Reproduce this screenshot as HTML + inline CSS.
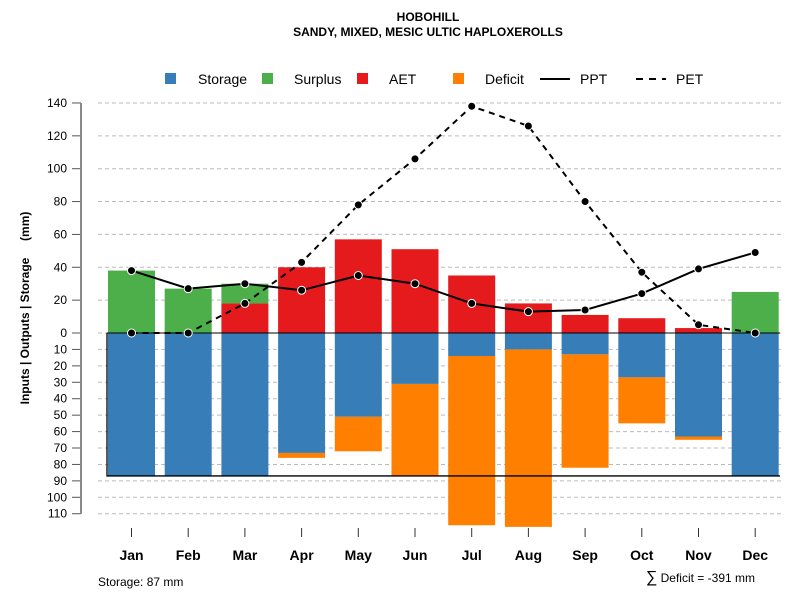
<!DOCTYPE html>
<html><head><meta charset="utf-8"><style>
body{margin:0;background:#fff;font-family:"Liberation Sans",sans-serif}
</style></head><body>
<svg id="chart" width="800" height="600" xmlns="http://www.w3.org/2000/svg" font-family="Liberation Sans, sans-serif">
<text x="428" y="21" text-anchor="middle" font-size="12" font-weight="bold">HOBOHILL</text>
<text x="428" y="36" text-anchor="middle" font-size="12" font-weight="bold">SANDY, MIXED, MESIC ULTIC HAPLOXEROLLS</text>
<g id="legend" font-size="14"></g>
<g id="grid"></g><g id="bars"></g><g id="lines"></g><g id="axes"></g>
<text transform="translate(29,308) rotate(-90)" text-anchor="middle" font-size="12" font-weight="bold" style="white-space:pre">Inputs | Outputs | Storage     (mm)</text>
<text x="98" y="586" font-size="12">Storage: 87 mm</text>
<text x="755" y="582" text-anchor="end" font-size="12"><tspan font-size="16">∑</tspan> Deficit = -391 mm</text>
</svg>
<script>
const months=["Jan","Feb","Mar","Apr","May","Jun","Jul","Aug","Sep","Oct","Nov","Dec"];
const storage=[87,87,87,73,51,31,14,10,13,27,63,87];
const deficit=[0,0,0,3,21,56,103,108,69,28,2,0];
const aet=[0,0,18,40,57,51,35,18,11,9,3,0];
const surplus=[38,27,12,0,0,0,0,0,0,0,0,25];
const ppt=[38,27,30,26,35,30,18,13,14,24,39,49];
const pet=[0,0,18,43,78,106,138,126,80,37,5,0];
const posTicks=[0,20,40,60,80,100,120,140];
const negTicks=[10,20,30,40,50,60,70,80,90,100,110];
const awc=87;
const NS="http://www.w3.org/2000/svg";
const y=v=>333-v*1.643;
const x=i=>131.5+i*56.7;
const BW=47;
function mk(p,t,a){const e=document.createElementNS(NS,t);for(const k in a)e.setAttribute(k,a[k]);document.getElementById(p).appendChild(e);return e;}
const allT=posTicks.map(v=>[v,y(v)]).concat(negTicks.map(v=>[v,y(-v)]));
allT.forEach(([v,py])=>{
 let g=mk('grid','line',{x1:98,x2:782,y1:py,y2:py,stroke:'#bbb','stroke-dasharray':'4,3'});
 
 
 let t=mk('axes','line',{x1:72,x2:81,y1:py,y2:py,stroke:'#555'});
 
 
 let l=mk('axes','text',{x:67,y:py+4,'text-anchor':'end','font-size':12});
 l.textContent=v;
 
 
});
let ax=mk('axes','line',{x1:81,x2:81,y1:y(140),y2:y(-110),stroke:'#888','stroke-width':2});


months.forEach((m,i)=>{
 const cx=x(i),x0=cx-BW/2;
 const r=(n,v0,v1,c)=>{if(v1===v0)return;const e=mk('bars','rect',{x:x0,y:Math.min(y(v0),y(v1)),width:BW,height:Math.abs(y(v0)-y(v1)),fill:c});};
 r('storage',0,-storage[i],'#377eb8');
 r('deficit',-storage[i],-storage[i]-deficit[i],'#ff7f00');
 r('aet',0,aet[i],'#e41a1c');
 r('surplus',aet[i],aet[i]+surplus[i],'#4daf4a');
 let t=mk('axes','line',{x1:cx,x2:cx,y1:528,y2:537,stroke:'#333'});
 
 
 let l=mk('axes','text',{x:cx,y:560,'text-anchor':'middle','font-size':14,'font-weight':'bold'});
 l.textContent=m;
 
 
});
let z=mk('lines','line',{x1:107,x2:780,y1:y(0),y2:y(0),stroke:'#000'});


let s=mk('lines','polyline',{points:`107,${y(0)} 107,${y(-awc)} 780,${y(-awc)}`,fill:'none',stroke:'#000','stroke-width':1.3});


[[pet,'pet-line','6,5'],[ppt,'ppt-line','']].forEach(([d,n,da])=>{
 const p=mk('lines','polyline',{points:d.map((v,i)=>x(i)+','+y(v)).join(' '),fill:'none',stroke:'#000','stroke-width':2,'stroke-dasharray':da});
 
 
 d.forEach((v,i)=>{const c=mk('lines','circle',{cx:x(i),cy:y(v),r:4,fill:'#000',stroke:'#fff','stroke-width':1});
 
 });
});
[['Storage','#377eb8',165,198],['Surplus','#4daf4a',262,294],['AET','#e41a1c',357,389],['Deficit','#ff7f00',453,485]].forEach(([t,c,sx,tx])=>{
 const r=mk('legend','rect',{x:sx,y:73,width:11,height:11,fill:c});
 
 
 const e=mk('legend','text',{x:tx,y:84});e.textContent=t;
 
 
});
[['PPT','',540,580],['PET','7,6',636,676]].forEach(([t,da,sx,tx])=>{
 const l=mk('legend','line',{x1:sx,x2:sx+30,y1:79,y2:79,stroke:'#000','stroke-width':2,'stroke-dasharray':da});
 
 
 const e=mk('legend','text',{x:tx,y:84});e.textContent=t;
 
 
});
</script>
</body></html>
